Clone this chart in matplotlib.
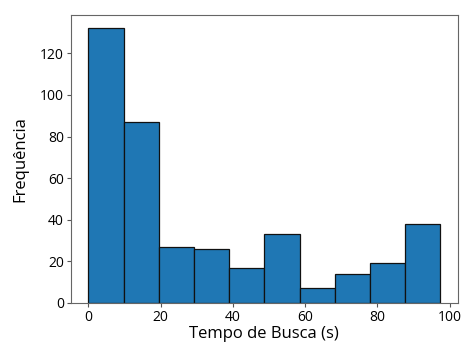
import numpy as np
import matplotlib
matplotlib.use("Agg")
import matplotlib.pyplot as plt

plt.rcParams['font.family'] = ['Open Sans', 'DejaVu Sans']

bin_start = 0.0
bin_end = 97.4
n_bins = 10
counts = [132, 87, 27, 26, 17, 33, 7, 14, 19, 38]

edges = np.linspace(bin_start, bin_end, n_bins + 1)

fig, ax = plt.subplots(figsize=(4.63, 3.43), dpi=100)
ax.hist(edges[:-1], bins=edges, weights=counts, color='#1f77b4', edgecolor='#111111', linewidth=0.9)
ax.set_xlabel('Tempo de Busca (s)', fontsize=12, labelpad=1)
ax.set_ylabel('Frequência', fontsize=12, labelpad=8)
ax.tick_params(labelsize=10, length=3, pad=2, color='#555555')
for s in ax.spines.values():
    s.set_color('#666666')
    s.set_linewidth(0.8)

fig.subplots_adjust(left=0.153, right=0.989, top=0.957, bottom=0.117)
fig.savefig('out.png', dpi=100)
